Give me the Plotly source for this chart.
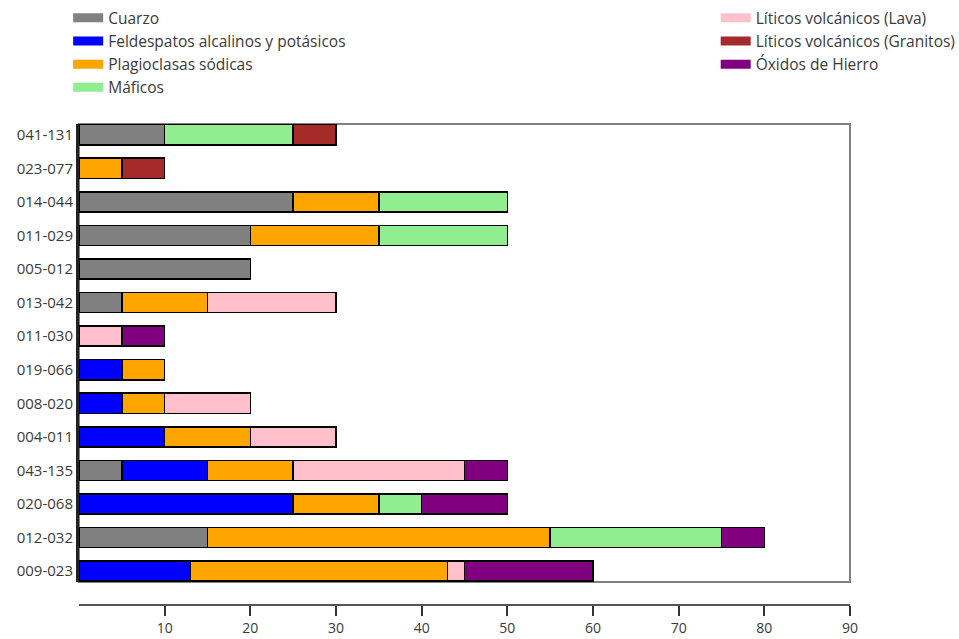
import plotly.graph_objects as go

categories = ["009-023", "012-032", "020-068", "043-135", "004-011", "008-020", "019-066",
              "011-030", "013-042", "005-012", "011-029", "014-044", "023-077", "041-131"]

cuarzo    = [0, 15, 0, 5, 0, 0, 0, 0, 5, 20, 20, 25, 0, 10]
feldesp   = [13, 0, 25, 10, 10, 5, 5, 0, 0, 0, 0, 0, 0, 0]
plagio    = [30, 40, 10, 10, 10, 5, 5, 0, 10, 0, 15, 10, 5, 0]
maficos   = [0, 20, 5, 0, 0, 0, 0, 0, 0, 0, 15, 15, 0, 15]
lava      = [2, 0, 0, 20, 10, 10, 0, 5, 15, 0, 0, 0, 0, 0]
granitos  = [0, 0, 0, 0, 0, 0, 0, 0, 0, 0, 0, 0, 5, 5]
oxidos    = [15, 5, 10, 5, 0, 0, 0, 5, 0, 0, 0, 0, 0, 0]

x_ticks = [10, 20, 30, 40, 50, 60, 70, 80, 90]

series = [
    ("Cuarzo", cuarzo, "#808080", "legend"),
    ("Feldespatos alcalinos y potásicos", feldesp, "#0000ff", "legend"),
    ("Plagioclasas sódicas", plagio, "#ffa500", "legend"),
    ("Máficos", maficos, "#90ee90", "legend"),
    ("Líticos volcánicos (Lava)", lava, "#ffc0cb", "legend2"),
    ("Líticos volcánicos (Granitos)", granitos, "#a52a2a", "legend2"),
    ("Óxidos de Hierro", oxidos, "#800080", "legend2"),
]

fig = go.Figure()
for name, vals, color, lg in series:
    fig.add_trace(go.Bar(
        y=categories, x=vals, orientation="h", name=name,
        marker=dict(color=color, line=dict(color="black", width=1.5)),
        showlegend=False, hoverinfo="x+y+name",
    ))
    fig.add_trace(go.Scatter(
        x=[None], y=[None], mode="lines", name=name,
        line=dict(color=color, width=9), legend=lg, showlegend=True,
    ))

txt = "#3a3a3a"
ydom0 = 0.048

fig.update_layout(
    width=959, height=639,
    barmode="stack", bargap=0.4,
    plot_bgcolor="white", paper_bgcolor="white",
    font=dict(family="Open Sans", size=15, color=txt),
    margin=dict(l=79, r=109, t=124, b=34, autoexpand=False),
    xaxis=dict(range=[0, 90], tickvals=x_ticks, showgrid=False, zeroline=False,
               showline=True, linecolor="#555555", linewidth=2,
               ticks="outside", ticklen=10, tickwidth=2, tickcolor="#333333",
               anchor="free", position=0, tickfont=dict(size=14, color=txt)),
    yaxis=dict(domain=[ydom0, 1], categoryorder="array", categoryarray=categories,
               range=[-0.32, 13.32],
               showgrid=False, zeroline=False, showline=True, linecolor="#222222",
               linewidth=3, ticks="", tickfont=dict(size=15, color=txt)),
    legend=dict(xref="container", yref="container", x=0.0711, y=0.998,
                xanchor="left", yanchor="top", font=dict(size=15.5),
                traceorder="normal", bgcolor="rgba(0,0,0,0)", tracegroupgap=0),
    legend2=dict(xref="container", yref="container", x=0.7463, y=0.998,
                 xanchor="left", yanchor="top", font=dict(size=15.5),
                 traceorder="normal", bgcolor="rgba(0,0,0,0)", tracegroupgap=0),
    shapes=[dict(type="rect", xref="paper", yref="paper", x0=0, x1=1, y0=ydom0, y1=1,
                 line=dict(color="#808080", width=2), layer="below")],
)

fig.write_html("out.html", config={"displayModeBar": False},
               post_script="document.body.style.margin='0';")
